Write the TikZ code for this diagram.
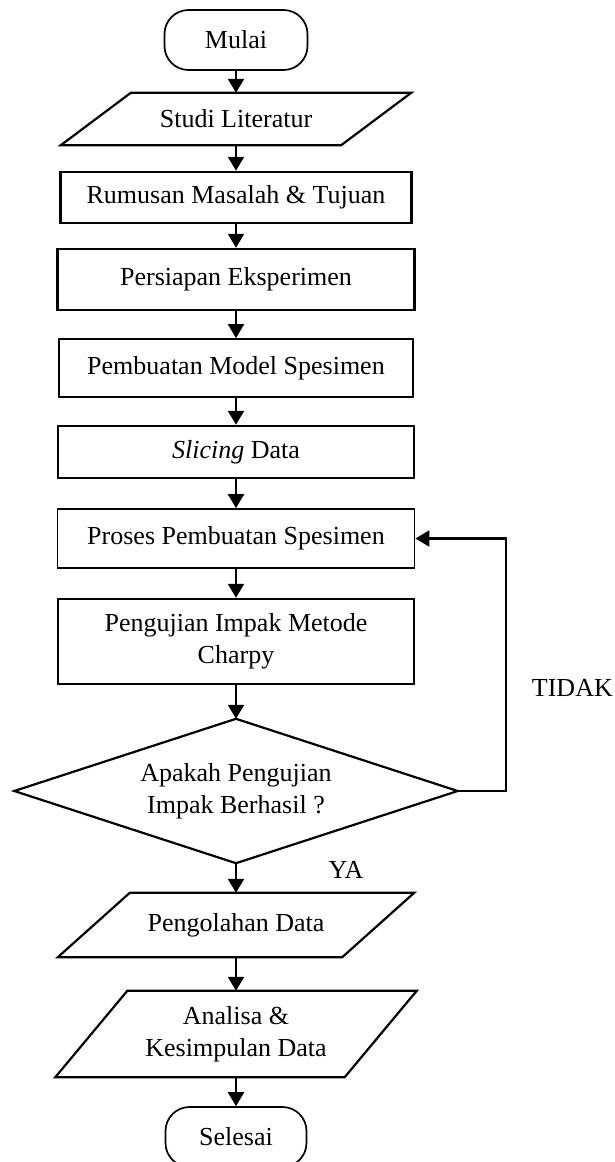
\documentclass[tikz,border=0pt]{standalone}
\usepackage{fontspec}
\setmainfont{Liberation Serif}
\usetikzlibrary{arrows.meta,calc}
\begin{document}
\begin{tikzpicture}[x=1pt,y=-1pt,
  txt/.style={font=\fontsize{26}{32}\selectfont, align=center, inner sep=0pt},
  box/.style={txt, draw, line width=2.5pt, rectangle},
  thinbox/.style={txt, draw, line width=1.8pt, rectangle},
  term/.style={txt, draw, line width=1.7pt, rounded corners=24pt},
  hidden/.style={txt, rectangle},
  outline/.style={line width=2.2pt, line join=miter},
  arr/.style={line width=2.3pt, -{Triangle[length=14pt,width=16pt]}},
  lbl/.style={font=\fontsize{26}{32}\selectfont, inner sep=0pt}
]
\useasboundingbox (0,0) rectangle (614,1162);

\node[term, minimum width=143pt, minimum height=60pt] (m) at (236,40) {Mulai};
\node[hidden, minimum width=350pt, minimum height=52pt] (s) at (236,119) {Studi Literatur};
\node[box, minimum width=351pt, minimum height=51pt] (r) at (236,197.5) {Rumusan Masalah \& Tujuan};
\node[box, minimum width=357pt, minimum height=61pt] (pe) at (236,279.5) {Persiapan Eksperimen};
\node[thinbox, minimum width=354pt, minimum height=58pt] (pm) at (236,368) {Pembuatan Model Spesimen};
\node[box, minimum width=356pt, minimum height=52pt] (sl) at (236,452) {\textit{Slicing} Data};
\node[thinbox, minimum width=357pt, minimum height=59pt] (pr) at (236,538.5) {Proses Pembuatan Spesimen};
\node[box, minimum width=356pt, minimum height=85pt] (pg) at (236,641.5) {Pengujian Impak Metode\\Charpy};
\node[hidden, minimum width=443pt, minimum height=144pt] (d) at (236,791) {Apakah Pengujian\\Impak Berhasil ?};
\node[hidden, minimum width=356pt, minimum height=64pt] (po) at (236,925) {Pengolahan Data};
\node[hidden, minimum width=361pt, minimum height=86pt] (an) at (236,1034) {Analisa \&\\Kesimpulan Data};
\node[term, minimum width=141pt, minimum height=60pt] (se) at (236,1137) {Selesai};

\node[lbl] (ya) at (346,870) {YA};
\node[lbl, anchor=east] (tidak) at (613,688) {TIDAK};

% parallelograms
\draw[outline] ([xshift=70pt]s.north west) -- (s.north east) -- ([xshift=-70pt]s.south east) -- (s.south west) -- cycle;
\draw[outline] ([xshift=72pt]po.north west) -- (po.north east) -- ([xshift=-72pt]po.south east) -- (po.south west) -- cycle;
\draw[outline] ([xshift=72pt]an.north west) -- (an.north east) -- ([xshift=-72pt]an.south east) -- (an.south west) -- cycle;
% diamond
\draw[outline] (d.north) -- (d.east) -- (d.south) -- (d.west) -- cycle;

% connectors
\draw[arr] (m) -- (s);
\draw[arr] (s) -- (r);
\draw[arr] (r) -- (pe);
\draw[arr] (pe) -- (pm);
\draw[arr] (pm) -- (sl);
\draw[arr] (sl) -- (pr);
\draw[arr] (pr) -- (pg);
\draw[arr] (pg) -- (d);
\draw[arr] (d) -- (po);
\draw[arr] (po) -- (an);
\draw[arr] (an) -- (se);
\draw[arr] (d.east) -- ++(48,0) |- (pr.east);
\end{tikzpicture}
\end{document}
